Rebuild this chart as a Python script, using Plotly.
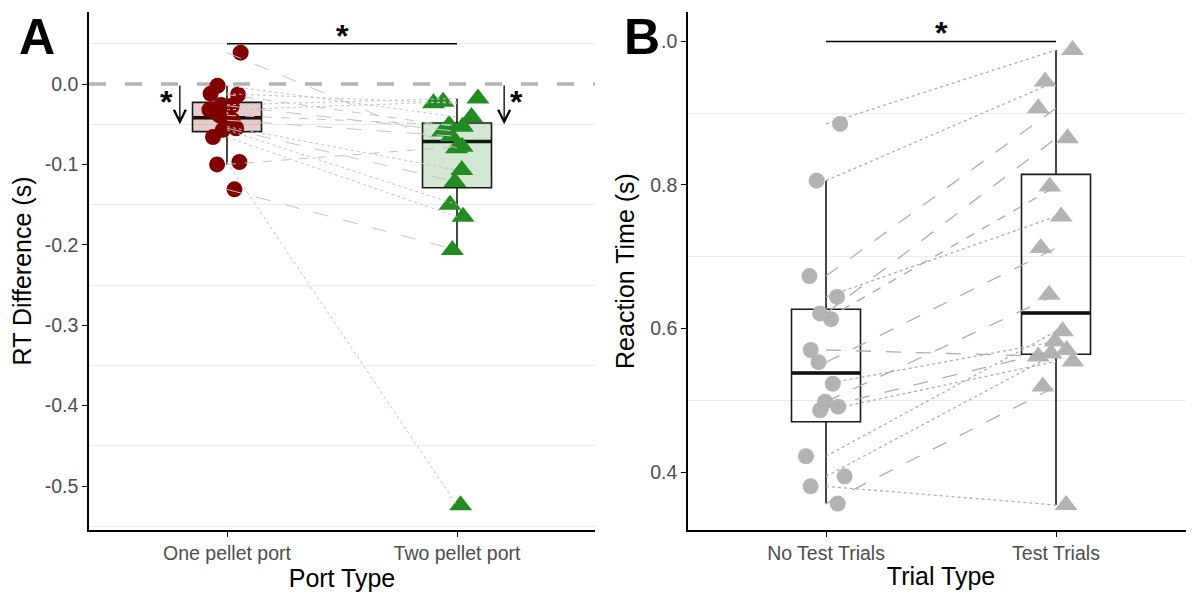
import numpy as np
import plotly.graph_objects as go

# ---------------- data ----------------
port_types = ["One pellet port", "Two pellet port"]
one_pellet = [0.039, -0.002, -0.012, -0.013, -0.026, -0.027, -0.032, -0.039,
              -0.045, -0.053, -0.055, -0.057, -0.066, -0.097, -0.100, -0.131]
two_pellet = [-0.080, -0.041, -0.024, -0.053, -0.018, -0.059, -0.022, -0.051,
              -0.065, -0.107, -0.122, -0.150, -0.165, -0.524, -0.078, -0.2065]
dash_a = ["longdash", "dot", "dot", "dash", "dot", "longdash", "dot", "dash",
          "longdash", "dot", "longdash", "dot", "dot", "dot", "dash", "longdash"]

trial_types = ["No Test Trials", "Test Trials"]
no_test = [0.885, 0.806, 0.673, 0.644, 0.621, 0.613, 0.570, 0.553,
           0.523, 0.498, 0.491, 0.486, 0.422, 0.394, 0.380, 0.356]
test = [0.988, 0.944, 0.907, 0.756, 0.865, 0.798, 0.561, 0.712,
        0.582, 0.647, 0.570, 0.554, 0.596, 0.565, 0.354, 0.519]
dash_b = ["dot", "dot", "longdash", "dot", "longdash", "dash", "longdash", "longdash",
          "dot", "longdash", "longdash", "dot", "dot", "dot", "dot", "longdash"]

ticks_a = [0.0, -0.1, -0.2, -0.3, -0.4, -0.5]
ticktext_a = ["0.0", "-0.1", "-0.2", "-0.3", "-0.4", "-0.5"]
ticks_b = [0.4, 0.6, 0.8, 1.0]
ticktext_b = ["0.4", "0.6", "0.8", "1.0"]

# ---------------- style ----------------
RED = "#800000"
GREEN = "#228B22"
GREY_PT = "#B3B3B3"
FONT = "Liberation Sans, Arial, sans-serif"
BOX_W = 0.3
X_RANGE = [-0.6, 1.6]
Y_RANGE_A = [-0.5547, 0.0896]
Y_RANGE_B = [0.3192, 1.041]

# the page body adds an 8px offset; the figure is sized to compensate
PAGE_OFFSET = 8
W, H = 1194 - PAGE_OFFSET, 592 - PAGE_OFFSET
PLOT_LEFT, PLOT_TOP, PLOT_BOTTOM = 89 - PAGE_OFFSET, 12 - PAGE_OFFSET, 530 - PAGE_OFFSET
L, T, B = PLOT_LEFT, PLOT_TOP, H - PLOT_BOTTOM
pw = W - L
ph = H - T - B


def px_to_paper(px, py):
    px -= PAGE_OFFSET
    py -= PAGE_OFFSET
    return (px - L) / pw, (H - B - py) / ph


def box_stats(v):
    v = np.sort(np.asarray(v, dtype=float))
    q1, med, q3 = np.quantile(v, [0.25, 0.5, 0.75])
    iqr = q3 - q1
    lo = v[v >= q1 - 1.5 * iqr].min()
    hi = v[v <= q3 + 1.5 * iqr].max()
    return q1, med, q3, lo, hi


fig = go.Figure()
shapes = []

panels = [
    ("x", "y", [one_pellet, two_pellet],
     ["rgba(139,0,0,0.2)", "rgba(34,139,34,0.2)"], [RED, GREEN],
     ["circle", "triangle-up"], "#C4C4C4", dash_a, 1.0),
    ("x2", "y2", [no_test, test],
     ["rgba(0,0,0,0)", "rgba(0,0,0,0)"], [GREY_PT, GREY_PT],
     ["circle", "triangle-up"], "#ADADAD", dash_b, 1.3),
]

# boxes
for xa, ya, groups, fills, cols, syms, lcol, dashes, lw in panels:
    for i, vals in enumerate(groups):
        q1, med, q3, lo, hi = box_stats(vals)
        fig.add_trace(go.Box(
            x=[i], q1=[q1], median=[med], q3=[q3], lowerfence=[lo], upperfence=[hi],
            width=BOX_W, fillcolor=fills[i], line=dict(color="#1a1a1a", width=1.6),
            whiskerwidth=0, boxpoints=False, xaxis=xa, yaxis=ya,
            showlegend=False, hoverinfo="skip"))
        shapes.append(dict(type="line", xref=xa, yref=ya, x0=i - BOX_W / 2,
                           x1=i + BOX_W / 2, y0=med, y1=med, layer="below",
                           line=dict(color="black", width=3.6)))

# jittered points
for xa, ya, groups, fills, cols, syms, lcol, dashes, lw in panels:
    for i, vals in enumerate(groups):
        size = 16 if syms[i] == "circle" else 20
        fig.add_trace(go.Box(
            y=vals, x0=i, width=BOX_W, boxpoints="all", jitter=0.7, pointpos=0,
            fillcolor="rgba(0,0,0,0)", line=dict(color="rgba(0,0,0,0)", width=0),
            marker=dict(color=cols[i], symbol=syms[i], size=size,
                        line=dict(width=0)),
            xaxis=xa, yaxis=ya, showlegend=False, hoverinfo="y"))

# paired lines
for xa, ya, groups, fills, cols, syms, lcol, dashes, lw in panels:
    for j in range(len(groups[0])):
        fig.add_trace(go.Scatter(
            x=[0, 1], y=[groups[0][j], groups[1][j]], mode="lines",
            line=dict(color=lcol, width=lw, dash=dashes[j]),
            xaxis=xa, yaxis=ya, showlegend=False, hoverinfo="skip"))

# reference line at 0 (panel A)
shapes.append(dict(type="line", xref="x", yref="y", x0=X_RANGE[0], x1=X_RANGE[1],
                   y0=0, y1=0, layer="below",
                   line=dict(color="#B3B3B3", width=3.5, dash="17px,19px")))
# significance brackets
BRACKET_A = 0.05
BRACKET_B = 1.0
shapes.append(dict(type="line", xref="x", yref="y", x0=0, x1=1, y0=BRACKET_A, y1=BRACKET_A,
                   layer="above", line=dict(color="black", width=1.5)))
shapes.append(dict(type="line", xref="x2", yref="y2", x0=0, x1=1, y0=BRACKET_B, y1=BRACKET_B,
                   layer="above", line=dict(color="black", width=1.5)))

annotations = []
star_font = dict(family=FONT, size=32, color="black")
annotations.append(dict(x=0.5, y=BRACKET_A, xref="x", yref="y", text="<b>*</b>",
                        showarrow=False, font=star_font, yanchor="bottom", yshift=-12))
annotations.append(dict(x=0.5, y=BRACKET_B, xref="x2", yref="y2", text="<b>*</b>",
                        showarrow=False, font=star_font, yanchor="bottom", yshift=-12))
# arrows from 0 toward -0.05
for xpos, sx in [(-0.205, -0.262), (1.205, 1.258)]:
    annotations.append(dict(x=xpos, y=-0.05, ax=xpos, ay=0.0, xref="x", yref="y",
                            axref="x", ayref="y", text="", showarrow=True,
                            arrowhead=5, arrowsize=1.8, arrowwidth=1.3,
                            arrowcolor="black", standoff=0, startstandoff=0))
    annotations.append(dict(x=sx, y=-0.022, xref="x", yref="y", text="<b>*</b>",
                            showarrow=False, font=star_font))

ax_, ay_ = px_to_paper(37, 37)
bx_, by_ = px_to_paper(642, 37)
annotations.append(dict(x=ax_, y=ay_, xref="paper", yref="paper", xanchor="center",
                        yanchor="middle", text="<b>A</b>", showarrow=False,
                        font=dict(family=FONT, size=50, color="black")))
annotations.append(dict(x=bx_, y=by_, xref="paper", yref="paper", xanchor="center",
                        yanchor="middle", text="<b>B</b>", showarrow=False,
                        bgcolor="white", borderpad=0,
                        font=dict(family=FONT, size=50, color="black")))

axis_common = dict(showline=True, linecolor="black", linewidth=1.6, ticks="outside",
                   ticklen=5, tickwidth=1.4, tickcolor="black", zeroline=False,
                   automargin=False,
                   tickfont=dict(family=FONT, size=19.5, color="#4D4D4D"))
title_font = dict(family=FONT, size=25, color="black")

fig.update_layout(
    width=W, height=H, margin=dict(l=L, r=0, t=T, b=B),
    paper_bgcolor="white", plot_bgcolor="white",
    font=dict(family=FONT),
    boxmode="overlay",
    shapes=shapes, annotations=annotations,
    xaxis=dict(domain=[0, (595 - PAGE_OFFSET - L) / pw], range=X_RANGE, tickvals=[0, 1],
               ticktext=port_types, showgrid=False, anchor="y",
               title=dict(text="Port Type", font=title_font, standoff=4), **axis_common),
    yaxis=dict(domain=[0, 1], range=Y_RANGE_A, tickvals=ticks_a,
               ticktext=ticktext_a, showgrid=False, anchor="x",
               minor=dict(tick0=0.05, dtick=0.1, showgrid=True, gridcolor="#EBEBEB",
                          gridwidth=1.2),
               title=dict(text="RT Difference (s)", font=title_font, standoff=8),
               **axis_common),
    xaxis2=dict(domain=[(688 - PAGE_OFFSET - L) / pw, 1], range=X_RANGE, tickvals=[0, 1],
                ticktext=trial_types, showgrid=False, anchor="y2",
                title=dict(text="Trial Type", font=title_font, standoff=4), **axis_common),
    yaxis2=dict(domain=[0, 1], range=Y_RANGE_B, tickvals=ticks_b,
                ticktext=ticktext_b, showgrid=False, anchor="x2",
                minor=dict(tick0=0.3, dtick=0.2, showgrid=True, gridcolor="#EBEBEB",
                           gridwidth=1.2),
                title=dict(text="Reaction Time (s)", font=title_font, standoff=8),
                **axis_common),
)

fig.write_html("out.html")
